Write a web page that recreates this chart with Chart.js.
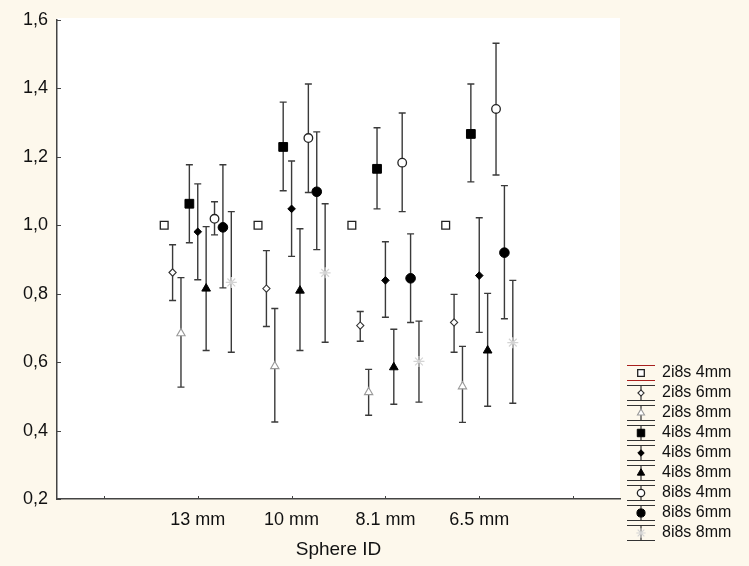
<!DOCTYPE html>
<html>
<head>
<meta charset="utf-8">
<script src="https://cdn.jsdelivr.net/npm/chart.js@4.4.0/dist/chart.umd.min.js"></script>
<style>
  html, body { margin: 0; padding: 0; background: #fdf8ec; }
  canvas { display: block; }
</style>
</head>
<body>
<canvas id="chart" width="749" height="566"></canvas>
<script>
// categories on the x axis (first and last slot are empty)
const categories = ['', '13 mm', '10 mm', '8.1 mm', '6.5 mm', ''];
const yTicks = [0.2, 0.4, 0.6, 0.8, 1.0, 1.2, 1.4, 1.6];
const seriesNames = ['2i8s 4mm', '2i8s 6mm', '2i8s 8mm', '4i8s 4mm', '4i8s 6mm', '4i8s 8mm', '8i8s 4mm', '8i8s 6mm', '8i8s 8mm'];

// means per sphere (13, 10, 8.1, 6.5 mm) and error bar ends
const mean2i8s4mm = [1.0, 1.0, 1.0, 1.0];

const mean2i8s6mm = [0.862, 0.815, 0.707, 0.716];
const high2i8s6mm = [0.943, 0.926, 0.748, 0.798];
const low2i8s6mm  = [0.780, 0.704, 0.661, 0.629];

const mean2i8s8mm = [0.684, 0.588, 0.512, 0.529];
const high2i8s8mm = [0.847, 0.757, 0.579, 0.646];
const low2i8s8mm  = [0.527, 0.425, 0.445, 0.424];

const mean4i8s4mm = [1.063, 1.229, 1.165, 1.267];
const high4i8s4mm = [1.177, 1.360, 1.285, 1.413];
const low4i8s4mm  = [0.949, 1.101, 1.048, 1.127];

const mean4i8s6mm = [0.981, 1.048, 0.839, 0.853];
const high4i8s6mm = [1.121, 1.188, 0.952, 1.022];
const low4i8s6mm  = [0.841, 0.909, 0.731, 0.687];

const mean4i8s8mm = [0.815, 0.809, 0.585, 0.634];
const high4i8s8mm = [0.996, 0.990, 0.696, 0.801];
const low4i8s8mm  = [0.634, 0.634, 0.477, 0.471];

const mean8i8s4mm = [1.019, 1.255, 1.183, 1.340];
const high8i8s4mm = [1.069, 1.413, 1.328, 1.532];
const low8i8s4mm  = [0.972, 1.096, 1.040, 1.147];

const mean8i8s6mm = [0.994, 1.098, 0.845, 0.920];
const high8i8s6mm = [1.177, 1.273, 0.975, 1.116];
const low8i8s6mm  = [0.817, 0.929, 0.716, 0.727];

const mean8i8s8mm = [0.833, 0.861, 0.602, 0.657];
const high8i8s8mm = [1.040, 1.063, 0.720, 0.839];
const low8i8s8mm  = [0.629, 0.658, 0.483, 0.480];

const means = [mean2i8s4mm, mean2i8s6mm, mean2i8s8mm, mean4i8s4mm, mean4i8s6mm, mean4i8s8mm, mean8i8s4mm, mean8i8s6mm, mean8i8s8mm];
const highs = [null, high2i8s6mm, high2i8s8mm, high4i8s4mm, high4i8s6mm, high4i8s8mm, high8i8s4mm, high8i8s6mm, high8i8s8mm];
const lows  = [null, low2i8s6mm, low2i8s8mm, low4i8s4mm, low4i8s6mm, low4i8s8mm, low8i8s4mm, low8i8s6mm, low8i8s8mm];

// marker look per series
const markers = [
  { style: 'rect',     radius: 5.5, fill: '#ffffff', stroke: '#222222', width: 1.3 },
  { style: 'rectRot',  radius: 3.6, fill: '#ffffff', stroke: '#333333', width: 1.1 },
  { style: 'triangle', radius: 4.8, fill: '#ffffff', stroke: '#9a9a9a', width: 1.1 },
  { style: 'rect',     radius: 6.2, fill: '#000000', stroke: '#000000', width: 1 },
  { style: 'rectRot',  radius: 3.8, fill: '#000000', stroke: '#000000', width: 1 },
  { style: 'triangle', radius: 5.0, fill: '#000000', stroke: '#000000', width: 1 },
  { style: 'circle',   radius: 4.3, fill: '#ffffff', stroke: '#222222', width: 1.3 },
  { style: 'circle',   radius: 4.8, fill: '#000000', stroke: '#000000', width: 1 },
  { style: 'star',     radius: 5.5, fill: '#d8d8d8', stroke: '#d4d4d4', width: 1.2 }
];

const FONT = 'Arial, "Liberation Sans", sans-serif';
const offsetStep = 0.0894;

const datasets = seriesNames.map((name, s) => ({
  label: name,
  data: means[s].map((v, i) => ({ x: i + 1 + (s - 4) * offsetStep, y: v })),
  pointStyle: markers[s].style,
  pointRadius: markers[s].radius,
  pointHoverRadius: markers[s].radius,
  backgroundColor: markers[s].fill,
  borderColor: markers[s].stroke,
  pointBorderWidth: markers[s].width,
  showLine: false
}));

const plotBackground = {
  id: 'plotBackground',
  beforeDraw(chart) {
    const { ctx, chartArea: a } = chart;
    ctx.save();
    ctx.fillStyle = '#ffffff';
    ctx.fillRect(a.left, a.top - 2, a.right - a.left, a.bottom - a.top + 2);
    ctx.restore();
  }
};

// short inward tick marks on both axes
const innerTicks = {
  id: 'innerTicks',
  afterDraw(chart) {
    const { ctx, chartArea: a, scales: { x, y } } = chart;
    ctx.save();
    ctx.strokeStyle = '#444444';
    ctx.lineWidth = 1;
    yTicks.forEach(v => {
      const py = Math.round(y.getPixelForValue(v)) + 0.5;
      ctx.beginPath(); ctx.moveTo(a.left, py); ctx.lineTo(a.left + 4, py); ctx.stroke();
    });
    categories.forEach((c, i) => {
      const px = Math.round(x.getPixelForValue(i)) + 0.5;
      ctx.beginPath(); ctx.moveTo(px, a.bottom); ctx.lineTo(px, a.bottom - 3); ctx.stroke();
    });
    ctx.restore();
  }
};

const errorBars = {
  id: 'errorBars',
  beforeDatasetsDraw(chart) {
    const { ctx, scales: { y } } = chart;
    ctx.save();
    ctx.strokeStyle = '#3a3a3a';
    ctx.lineWidth = 1.4;
    chart.data.datasets.forEach((ds, s) => {
      if (!highs[s]) return;
      chart.getDatasetMeta(s).data.forEach((pt, i) => {
        const px = pt.x;
        const top = y.getPixelForValue(highs[s][i]);
        const bot = y.getPixelForValue(lows[s][i]);
        ctx.beginPath();
        ctx.moveTo(px, top); ctx.lineTo(px, bot);
        ctx.moveTo(px - 3.5, top); ctx.lineTo(px + 3.5, top);
        ctx.moveTo(px - 3.5, bot); ctx.lineTo(px + 3.5, bot);
        ctx.stroke();
      });
    });
    ctx.restore();
  }
};

// legend with whisker symbols, bottom right
const whiskerLegend = {
  id: 'whiskerLegend',
  afterDraw(chart) {
    const ctx = chart.ctx;
    const x0 = 627, x1 = 655, cx = 641, tx = 662;
    ctx.save();
    ctx.font = '16px ' + FONT;
    ctx.textBaseline = 'middle';
    ctx.textAlign = 'left';
    seriesNames.forEach((name, s) => {
      const cy = 373 + s * 20;
      ctx.strokeStyle = s === 0 ? '#a8201e' : '#333333';
      ctx.lineWidth = 1.2;
      ctx.beginPath();
      ctx.moveTo(x0, cy - 7.5); ctx.lineTo(x1, cy - 7.5);
      ctx.moveTo(x0, cy + 7.5); ctx.lineTo(x1, cy + 7.5);
      if (s !== 0) { ctx.moveTo(cx, cy - 7.5); ctx.lineTo(cx, cy + 7.5); }
      ctx.stroke();
      const m = markers[s];
      ctx.fillStyle = m.fill;
      ctx.strokeStyle = m.stroke;
      ctx.lineWidth = m.width;
      Chart.helpers.drawPoint(ctx, { pointStyle: m.style, radius: m.radius * 0.85, rotation: 0, borderWidth: m.width }, cx, cy);
      ctx.fillStyle = '#111111';
      ctx.fillText(name, tx, cy);
    });
    ctx.restore();
  }
};

new Chart(document.getElementById('chart'), {
  type: 'scatter',
  data: { datasets },
  options: {
    responsive: false,
    devicePixelRatio: 1,
    animation: false,
    layout: { padding: { top: 20, right: 129, left: 0, bottom: 0 } },
    plugins: {
      legend: { display: false },
      tooltip: { enabled: false }
    },
    scales: {
      x: {
        type: 'linear',
        min: -0.5,
        max: 5.5,
        afterBuildTicks: (scale) => { scale.ticks = categories.map((c, i) => ({ value: i })); },
        afterFit: (scale) => { scale.height = 67; },
        grid: { display: true, color: 'rgba(0,0,0,0)', drawTicks: false },
        border: { display: true, color: '#444444', width: 1.5 },
        ticks: {
          padding: 10,
          color: '#111111',
          font: { family: FONT, size: 18 },
          maxRotation: 0,
          autoSkip: false,
          callback: (v) => categories[v] || ''
        },
        title: {
          display: true,
          text: 'Sphere ID',
          color: '#111111',
          font: { family: FONT, size: 19 },
          padding: { top: 0, bottom: 5 }
        }
      },
      y: {
        min: 0.2,
        max: 1.6,
        afterBuildTicks: (scale) => { scale.ticks = yTicks.map(v => ({ value: v })); },
        afterFit: (scale) => { scale.width = 57; },
        grid: { display: true, color: 'rgba(0,0,0,0)', drawTicks: false },
        border: { display: true, color: '#444444', width: 1.5 },
        ticks: {
          padding: 9,
          color: '#111111',
          font: { family: FONT, size: 18 },
          callback: (v) => v.toFixed(1).replace('.', ',')
        }
      }
    }
  },
  plugins: [plotBackground, errorBars, innerTicks, whiskerLegend]
});
</script>
</body>
</html>
